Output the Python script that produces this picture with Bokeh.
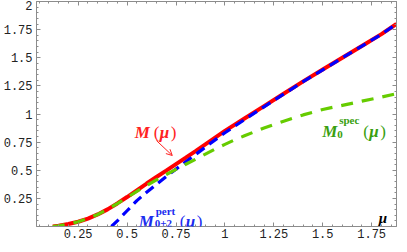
from bokeh.plotting import figure
from bokeh.models import Label, Arrow, OpenHead, FixedTicker, LinearAxis, Range1d
from bokeh.embed import file_html
from bokeh.resources import INLINE

# ---- data ----
mu_full = [0.12, 0.15, 0.20, 0.25, 0.30, 0.35, 0.40, 0.45, 0.50, 0.55, 0.60, 0.65,
           0.70, 0.75, 0.80, 0.85, 0.90, 0.95, 1.00, 1.10, 1.20, 1.30, 1.40, 1.50,
           1.60, 1.70, 1.80, 1.877]
M_full = [0.000, 0.006, 0.022, 0.042, 0.070, 0.107, 0.152, 0.205, 0.262, 0.322, 0.382, 0.440,
          0.497, 0.555, 0.612, 0.670, 0.730, 0.790, 0.850, 0.960, 1.070, 1.180, 1.290, 1.395,
          1.500, 1.605, 1.710, 1.800]

mu_pert = [0.42, 0.45, 0.50, 0.55, 0.60, 0.65, 0.70, 0.75, 0.80, 0.85, 0.90, 0.95, 1.00,
           1.10, 1.20, 1.30, 1.40, 1.50, 1.60, 1.70, 1.80, 1.877]
M_pert = [0.000, 0.050, 0.140, 0.230, 0.305, 0.375, 0.445, 0.510, 0.575, 0.640, 0.705, 0.770, 0.833,
          0.950, 1.064, 1.176, 1.287, 1.393, 1.499, 1.604, 1.709, 1.799]

mu_spec = [0.12, 0.15, 0.20, 0.25, 0.30, 0.35, 0.40, 0.45, 0.50, 0.55, 0.60, 0.65, 0.70,
           0.75, 0.80, 0.85, 0.90, 0.95, 1.00, 1.05, 1.10, 1.20, 1.30, 1.40, 1.50, 1.60,
           1.70, 1.80, 1.877]
M_spec = [0.000, 0.006, 0.022, 0.042, 0.070, 0.107, 0.152, 0.204, 0.258, 0.312, 0.365, 0.415, 0.462,
          0.508, 0.553, 0.598, 0.643, 0.688, 0.730, 0.770, 0.806, 0.876, 0.936, 0.992, 1.040, 1.077,
          1.114, 1.150, 1.180]

x_ticks = [0.25, 0.5, 0.75, 1.0, 1.25, 1.5, 1.75]
x_tick_labels = ["0.25", "0.5", "0.75", "1", "1.25", "1.5", "1.75"]
y_ticks = [0.25, 0.5, 0.75, 1.0, 1.25, 1.5, 1.75, 2.0]
y_tick_labels = ["0.25", "0.5", "0.75", "1", "1.25", "1.5", "1.75", "2"]

RED = "#ff0000"
BLUE = "#0000ff"
GREEN = "#66cc00"
AXC = "#8c8c8c"
SERIF = "Liberation Serif"

p = figure(width=399, height=244, x_range=Range1d(0.037, 1.877), y_range=Range1d(0, 2),
           output_backend="svg", toolbar_location=None,
           min_border_left=33, min_border_right=3, min_border_top=1, min_border_bottom=18)
p.grid.visible = False
p.outline_line_color = AXC
p.background_fill_color = "white"
p.border_fill_color = "white"

minor_x = [round(0.05 * i, 2) for i in range(1, 38)]
minor_y = [round(0.05 * i, 2) for i in range(1, 40)]


def style_axis(ax, ticks, minor, labels, show_labels, standoff=4):
    ax.ticker = FixedTicker(ticks=ticks, minor_ticks=minor)
    ax.axis_line_color = AXC
    ax.major_tick_line_color = AXC
    ax.minor_tick_line_color = AXC
    ax.major_tick_in = 4
    ax.major_tick_out = 0
    ax.minor_tick_in = 2
    ax.minor_tick_out = 0
    if show_labels:
        ax.major_label_overrides = {t: s for t, s in zip(ticks, labels)}
        ax.major_label_text_font = "Liberation Mono"
        ax.major_label_text_font_size = "12px"
        ax.major_label_text_color = "#222222"
        ax.major_label_standoff = standoff
    else:
        ax.major_label_overrides = {t: "" for t in ticks}
        ax.major_label_text_font_size = "0px"
        ax.major_label_standoff = 0


style_axis(p.xaxis[0], x_ticks, minor_x, x_tick_labels, True, standoff=2)
style_axis(p.yaxis[0], y_ticks, minor_y, y_tick_labels, True, standoff=4)

top = LinearAxis()
style_axis(top, x_ticks, minor_x, x_tick_labels, False)
p.add_layout(top, "above")
right = LinearAxis()
style_axis(right, y_ticks, minor_y, y_tick_labels, False)
p.add_layout(right, "right")

# ---- curves ----
p.line(mu_full, M_full, line_color=RED, line_width=4)
p.line(mu_pert, M_pert, line_color=BLUE, line_width=3.2, line_dash="10 6")
p.line(mu_spec, M_spec, line_color=GREEN, line_width=3.2, line_dash="12 9")


def put(text, x, y, dx, dy, size, color, style="normal", font=SERIF):
    p.add_layout(Label(x=x, y=y, x_offset=dx, y_offset=dy, text=text,
                       text_font=font, text_font_size=size, text_color=color,
                       text_font_style=style, text_align="left", text_baseline="alphabetic"))


# M(mu)
LR = "#ff2222"
put("M", 0.539, 0.836, 0, 0, "17px", LR, "bold italic")
put("(", 0.539, 0.836, 19, 0, "17px", LR)
put("\u03bc", 0.539, 0.836, 25, 0, "17px", LR, "bold italic")
put(")", 0.539, 0.836, 36, 0, "17px", LR)
p.add_layout(Arrow(x_start=0.650, y_start=0.764, x_end=0.731, y_end=0.631,
                   line_color=LR, line_width=1,
                   end=OpenHead(size=6, line_color=LR, line_width=1)))

# M_0^spec(mu)
LG = "#3a9f10"
gx, gy = 1.497, 0.844
put("M", gx, gy, 0, 0, "17px", LG, "bold italic")
put("0", gx, gy, 15, -3, "11px", LG, "bold")
put("spec", gx, gy, 17, 12, "11px", LG, "bold")
put("(", gx, gy, 41, 0, "17px", LG)
put("\u03bc", gx, gy, 47, 0, "17px", LG, "bold italic")
put(")", gx, gy, 58, 0, "17px", LG)

# M_{0+2}^pert(mu)
LB = "#1a2cf0"
bx, by = 0.559, 0.044
put("M", bx, by, 0, 0, "17px", LB, "bold italic")
put("0+2", bx, by, 16, -2, "11px", LB, "bold")
put("pert", bx, by, 17, 11, "11px", LB, "bold")
put("(", bx, by, 41, 0, "17px", LB)
put("\u03bc", bx, by, 47, 0, "17px", LB, "bold italic")
put(")", bx, by, 58, 0, "17px", LB)

# axis label mu
put("\u03bc", 1.786, 0.08, 0, 0, "15px", "#000000", "bold italic")

open("out.html", "w").write(file_html(p, INLINE))
